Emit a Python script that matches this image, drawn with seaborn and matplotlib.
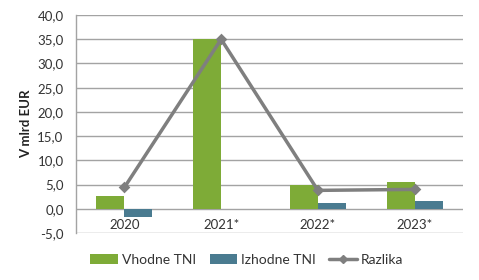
import matplotlib
matplotlib.use("Agg")
import matplotlib.pyplot as plt
import seaborn as sns
import pandas as pd
from matplotlib.ticker import FuncFormatter, MultipleLocator
from matplotlib.patches import Patch
from matplotlib.lines import Line2D

years = ["2020", "2021*", "2022*", "2023*"]
vhodne = [2.7, 35.0, 5.0, 5.6]
izhodne = [-1.7, 0.0, 1.2, 1.6]
razlika = [4.4, 35.0, 3.8, 4.0]
series_names = ["Vhodne TNI", "Izhodne TNI", "Razlika"]

green = "#7eab37"
blue = "#4a7b90"
gray = "#7f7f7f"

sns.set_theme(style="white")
plt.rcParams["font.family"] = ["Lato", "DejaVu Sans"]

df = pd.DataFrame({
    "year": years * 2,
    "value": vhodne + izhodne,
    "series": [series_names[0]] * 4 + [series_names[1]] * 4,
})

fig = plt.figure(figsize=(4.79, 2.8), dpi=100)
ax = fig.add_axes([76 / 479, 1 - 233 / 280, (463 - 76) / 479, (233 - 15) / 280])

sns.barplot(data=df, x="year", y="value", hue="series", order=years,
            palette=[green, blue], width=0.58, saturation=1, ax=ax,
            legend=False, zorder=3, linewidth=0, edgecolor="none")
sns.pointplot(x=years, y=razlika, color=gray, markers="D", ax=ax,
              markersize=4, linewidth=2.5, zorder=4)

ax.set_xlim(-0.5, 3.5)
ax.set_ylim(-5, 40)
ax.yaxis.set_major_locator(MultipleLocator(5))
ax.yaxis.set_major_formatter(FuncFormatter(lambda v, p: f"{v:.1f}".replace(".", ",")))
ax.grid(axis="y", color="#a3a3a3", linewidth=1.0, zorder=0)
ax.set_axisbelow(True)
for s in ["top", "right", "bottom"]:
    ax.spines[s].set_visible(False)
ax.spines["left"].set_color("#a3a3a3")
ax.spines["left"].set_linewidth(1.0)

ax.tick_params(axis="y", length=0, pad=9, labelsize=9.5, colors="#333333")
ax.tick_params(axis="x", length=0, pad=-10, labelsize=9.5, colors="#333333")
ax.set_xlabel("")
ax.set_ylabel("V mlrd EUR", fontsize=9.5, fontweight="bold", color="#222222", labelpad=4)

handles = [
    Patch(facecolor=green, edgecolor="none"),
    Patch(facecolor=blue, edgecolor="none"),
    Line2D([0], [0], color=gray, linewidth=2.5, marker="D", markersize=4),
]
fig.legend(handles, series_names, loc="center", bbox_to_anchor=(0.515, 1 - 260 / 280),
           ncol=3, frameon=False, fontsize=10, handlelength=2.0, handleheight=0.65,
           columnspacing=1.0, handletextpad=0.25, labelcolor="#333333")

fig.savefig("out.png", dpi=100)
